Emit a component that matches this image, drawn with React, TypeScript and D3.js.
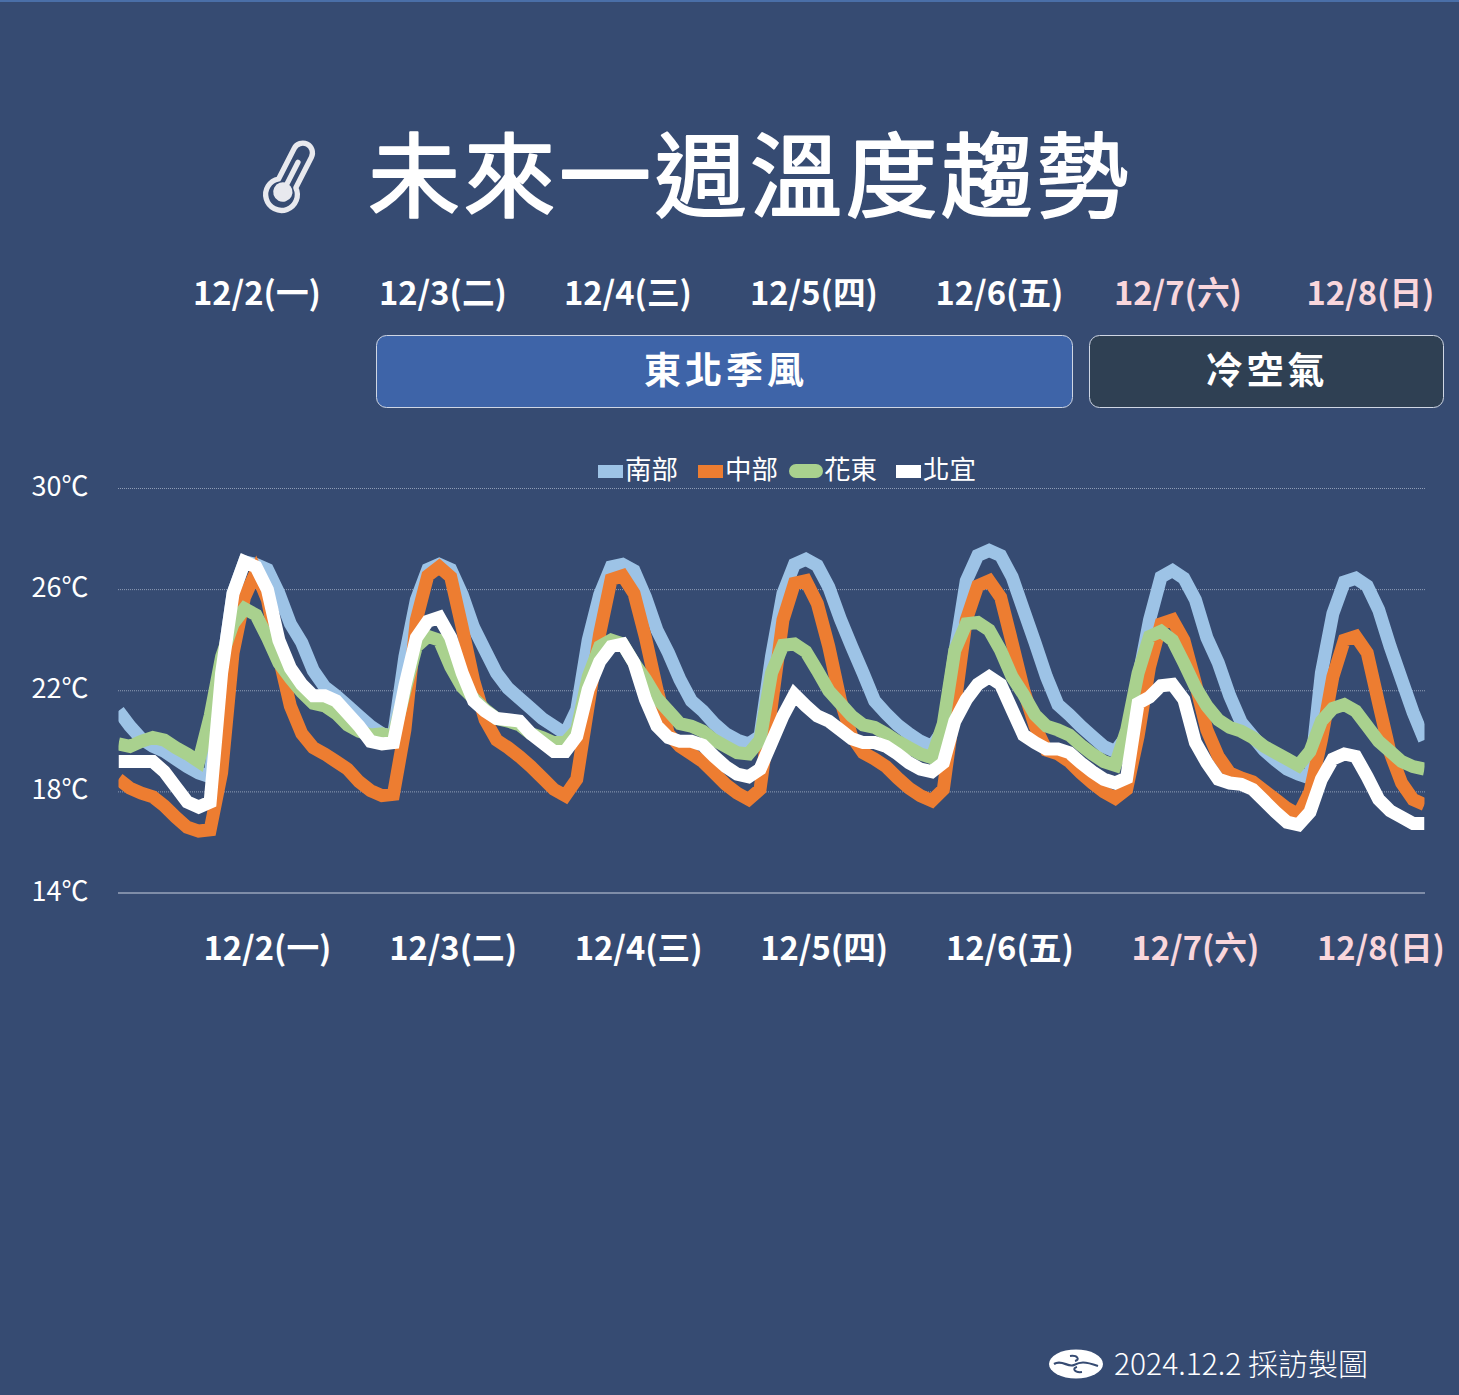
import React from "react";
import * as d3 from "d3";

const southValues = [
  21.2,20.6,20.1,19.8,19.6,19.3,19,18.75,18.6,
  22.7,25.85,27.1,27,26.8,25.85,24.65,23.9,
  22.8,22.15,21.8,21.4,21,20.6,20.3,20.2,
  23.35,25.6,26.8,27,26.8,25.8,24.5,23.6,
  22.7,22.1,21.7,21.3,20.9,20.6,20.3,21.25,
  24,25.8,26.9,27,26.75,25.7,24.4,23.5,
  22.45,21.6,21.2,20.7,20.3,20.05,19.9,20.2,
  23.35,25.85,27,27.2,26.95,26.1,24.85,23.75,
  22.7,21.6,21.1,20.65,20.3,20,19.8,20.45,
  23.5,26.35,27.35,27.55,27.35,26.5,25.2,23.9,
  22.55,21.45,21.05,20.6,20.2,19.8,19.6,20.2,
  22.45,24.8,26.5,26.75,26.45,25.6,24.1,23.1,
  21.8,20.75,20.2,19.65,19.25,18.9,18.7,18.55,
  22.7,25.05,26.3,26.45,26.15,25.2,23.75,22.45,21.15,20.05,
];
const centralValues = [
  18.5,18.15,17.95,17.8,17.45,17,16.6,16.45,16.5,
  18.75,23.5,25.7,26.7,25.6,23.35,21.4,20.3,
  19.75,19.5,19.2,18.9,18.4,18.05,17.85,17.9,
  20.45,24.8,26.55,26.9,26.5,24.5,22.4,20.85,
  20.05,19.75,19.4,19,18.55,18.1,17.85,18.5,
  21.4,24.25,26.4,26.55,25.85,24.1,22.05,20.3,
  19.8,19.5,19.2,18.75,18.3,17.95,17.7,18.1,
  21.4,24.8,26.25,26.35,25.45,23.75,21.65,20.2,
  19.55,19.3,19,18.55,18.15,17.85,17.65,18.1,
  21.4,24.8,26.15,26.35,25.7,23.9,22.05,20.6,
  19.65,19.5,19.2,18.75,18.35,18,17.75,18.1,
  20.2,22.95,24.65,24.8,24,22.3,20.45,19.4,
  18.75,18.55,18.4,18.05,17.7,17.35,17.1,18,
  20.05,22.55,24,24.15,23.5,21.5,19.55,18.35,17.7,17.5,
];
const eastValues = [
  19.9,19.8,20,20.15,20.05,19.75,19.5,19.2,21,
  23.35,24.65,25.25,25,24.1,23.1,22.5,21.95,
  21.5,21.4,21.1,20.65,20.4,20.25,20.3,20.2,
  22,23.75,24.15,24,22.95,22.15,21.7,21.25,
  20.9,20.8,20.65,20.3,20.15,19.95,19.95,20.45,
  22.55,23.75,24,23.85,23.1,22.45,21.7,21.2,
  20.7,20.6,20.4,20.05,19.8,19.55,19.5,20.05,
  22.7,23.8,23.85,23.55,22.8,22,21.5,21,
  20.65,20.55,20.3,20,19.75,19.5,19.35,20.7,
  23.6,24.65,24.7,24.4,23.6,22.55,21.85,21.05,
  20.6,20.45,20.25,19.85,19.5,19.2,19.05,20.45,
  22.7,24.15,24.35,24,23.1,22.15,21.4,20.85,
  20.55,20.4,20.15,19.8,19.55,19.3,19.05,19.6,
  20.8,21.3,21.45,21.2,20.6,20,19.6,19.2,19,18.9,
];
const northValues = [
  19.2,19.2,19.2,19.2,18.8,18.2,17.6,17.4,17.6,
  22.7,25.85,27.1,26.9,26,24,22.9,22.25,
  21.8,21.8,21.6,21.1,20.6,20,19.9,19.95,
  22.2,24.1,24.75,24.9,24.1,22.7,21.6,21.2,
  20.9,20.85,20.8,20.3,19.95,19.6,19.6,20.2,
  22.05,23.15,23.75,23.85,23.1,21.65,20.6,20.15,
  20,20,19.85,19.4,19,18.7,18.6,18.9,
  19.95,21,21.85,21.4,21,20.8,20.45,20.1,
  19.95,19.95,19.8,19.5,19.15,18.9,18.8,19.15,
  20.8,21.65,22.25,22.55,22.25,21.25,20.25,19.95,
  19.7,19.7,19.55,19.15,18.8,18.5,18.35,18.55,
  21.5,21.75,22.2,22.25,21.65,19.95,19.15,18.5,
  18.35,18.3,18.1,17.65,17.2,16.8,16.7,17.2,
  18.5,19.3,19.5,19.4,18.6,17.7,17.25,17,16.75,16.75,
];

const seriesNames = ["南部", "中部", "花東", "北宜"];
const seriesColors = ["#9dc3e6", "#ed7d31", "#a9d18e", "#ffffff"];
const seriesValues = [southValues, centralValues, eastValues, northValues];
const tempTicks = [14, 18, 22, 26, 30];
const dayLabels = ["12/2(一)", "12/3(二)", "12/4(三)", "12/5(四)", "12/6(五)", "12/7(六)", "12/8(日)"];
const dayColors = ["#fff", "#fff", "#fff", "#fff", "#fff", "#f9d6dc", "#f9d6dc"];
const topDayCenters = [257, 443, 628, 814, 999.5, 1178, 1370.5];
const bands = ["東北季風", "冷空氣"];

const W = 1459, H = 1395;
const FONT = "'Noto Sans CJK TC', 'Noto Sans', sans-serif";
const BG = "#364b72";

export default function App() {
  const x = d3.scaleLinear().domain([0, southValues.length - 1]).range([118.5, 1424.5]);
  const y = d3.scaleLinear().domain([14, 30]).range([893, 488.5]);
  const line = d3.line<number>().x((_, i) => x(i)).y((d) => y(d)).curve(d3.curveLinear);
  const botX = d3.scaleLinear().domain([0, 6]).range([267.5, 1381]);
  const legendX = [598, 698, 797, 896];

  return (
    <svg width={W} height={H} viewBox={`0 0 ${W} ${H}`} style={{ position: "fixed", left: 0, top: 0, display: "block" }} fontFamily={FONT}>
      <rect width={W} height={H} fill={BG} />
      <rect width={W} height={2} fill="#4a6fa8" />
      <defs>
        <clipPath id="plot"><rect x={118.5} y={440} width={1306} height={460} /></clipPath>
      </defs>

      <g transform="translate(292,174) rotate(27) scale(0.88)" fill="none" stroke="#e8e9ee">
        <path d="M-11,12 L-11,-27 A11,11 0 0 1 11,-27 L11,12 A18,18 0 1 1 -11,12 Z" strokeWidth={6} strokeLinejoin="round" />
        <path d="M0,18 L0,-15" strokeWidth={6} strokeLinecap="round" />
        <circle cx={0} cy={23} r={11} fill="#e8e9ee" stroke="none" />
      </g>
      <text x={368} y={210} fill="#fff" stroke="#fff" strokeWidth={2} strokeLinejoin="round" strokeLinecap="round" fontSize={92} fontWeight={400} letterSpacing={3.5}>未來一週溫度趨勢</text>

      {dayLabels.map((d, i) => (
        <text key={"t" + i} x={topDayCenters[i]} y={305} textAnchor="middle" fill={dayColors[i]} fontSize={32.7} fontWeight={700}>{d}</text>
      ))}

      <rect x={376.5} y={335.5} width={696} height={72} rx={10} fill="#3e64a8" stroke="#cfd6e4" strokeWidth={1} />
      <rect x={1089.5} y={335.5} width={354} height={72} rx={10} fill="#2f4053" stroke="#cfd6e4" strokeWidth={1} />
      <text x={726} y={384} textAnchor="middle" fill="#fff" fontSize={37} fontWeight={700} letterSpacing={4}>{bands[0]}</text>
      <text x={1267} y={384} textAnchor="middle" fill="#fff" fontSize={37} fontWeight={700} letterSpacing={4}>{bands[1]}</text>

      {tempTicks.map((t) => (
        <g key={t}>
          {t === 14 ? (
            <line x1={118} x2={1425} y1={y(t)} y2={y(t)} stroke="#c8d0de" strokeWidth={1} />
          ) : (
            <line x1={118} x2={1425} y1={y(t)} y2={y(t)} stroke="#8f9db6" strokeWidth={1} strokeDasharray="1 1" />
          )}
          <text x={60} y={y(t) + 7.5} textAnchor="middle" fill="#fff" fontSize={27}>{t}℃</text>
        </g>
      ))}

      {seriesNames.map((n, i) => (
        <g key={n}>
          {i === 2 ? (
            <rect x={legendX[i] - 8} y={464} width={34} height={14} rx={7} fill={seriesColors[i]} />
          ) : (
            <rect x={legendX[i]} y={465} width={25} height={13} fill={seriesColors[i]} />
          )}
          <text x={legendX[i] + 27} y={479} fill="#fff" fontSize={26.5}>{n}</text>
        </g>
      ))}

      <g clipPath="url(#plot)">
        {seriesValues.map((v, i) => (
          <path key={i} d={line(v) ?? ""} fill="none" stroke={seriesColors[i]} strokeWidth={13} strokeLinejoin="miter" strokeMiterlimit={3} strokeLinecap="butt" />
        ))}
      </g>

      {dayLabels.map((d, i) => (
        <text key={"b" + i} x={botX(i)} y={960} textAnchor="middle" fill={dayColors[i]} fontSize={32.7} fontWeight={700}>{d}</text>
      ))}

      <g transform="translate(1076,1364)">
        <ellipse cx={0} cy={0} rx={27} ry={14.5} fill="#fff" />
        <path d="M-22,0 C-14,-5 -8,4 -2,1 C4,-2 8,-3 22,2" fill="none" stroke={BG} strokeWidth={2.2} />
        <path d="M-6,-8 C2,-9 4,-4 -1,-3 M6,8 C-2,9 -4,4 1,3" fill="none" stroke={BG} strokeWidth={2} />
      </g>
      <text x={1114} y={1375} fill="#fff" fontSize={30} fontWeight={300}>2024.12.2 採訪製圖</text>
    </svg>
  );
}
